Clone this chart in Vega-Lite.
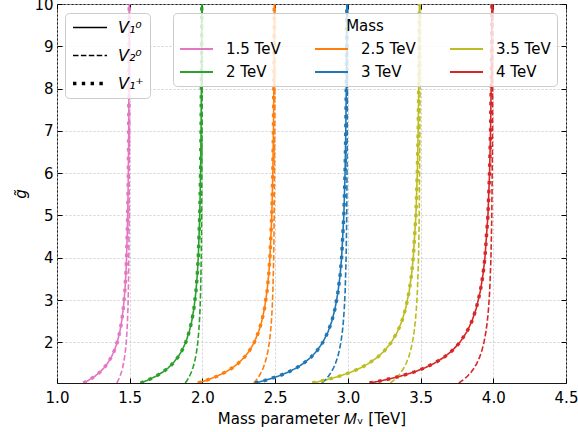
{
  "$schema": "https://vega.github.io/schema/vega-lite/v6.json",
  "autosize": {"type": "none"},
  "width": 509,
  "height": 379,
  "padding": {"left": 57, "top": 4, "right": 12, "bottom": 49},
  "background": "white",
  "view": {"stroke": "#1a1a1a", "strokeWidth": 1},
  "config": {
    "font": "DejaVu Sans",
    "axis": {
      "labelFont": "DejaVu Sans", "labelFontSize": 15, "labelColor": "black",
      "titleFont": "DejaVu Sans", "titleFontSize": 15, "titleFontWeight": "normal", "titleColor": "black",
      "tickColor": "black", "tickSize": -5, "tickWidth": 1, "domain": false,
      "gridColor": "#c4c4c4", "gridDash": [2, 2], "gridWidth": 0.8
    },
    "legend": {
      "labelFont": "DejaVu Sans", "labelFontSize": 15, "labelColor": "black",
      "titleFont": "DejaVu Sans", "titleFontSize": 15, "titleFontWeight": "normal", "titleColor": "black",
      "fillColor": "rgba(255,255,255,0.8)", "strokeColor": "#cccccc", "cornerRadius": 4
    }
  },
  "datasets": {
    "c": [
      {"m":"1.5 TeV","t":"s","g":1.04,"x":1.181},{"m":"1.5 TeV","t":"s","g":1.1,"x":1.2149},{"m":"1.5 TeV","t":"s","g":1.2,"x":1.2604},{"m":"1.5 TeV","t":"s","g":1.3,"x":1.2959},{"m":"1.5 TeV","t":"s","g":1.4,"x":1.324},{"m":"1.5 TeV","t":"s","g":1.5,"x":1.3467},{"m":"1.5 TeV","t":"s","g":1.65,"x":1.3733},{"m":"1.5 TeV","t":"s","g":1.8,"x":1.3935},{"m":"1.5 TeV","t":"s","g":2,"x":1.4138},{"m":"1.5 TeV","t":"s","g":2.25,"x":1.4319},{"m":"1.5 TeV","t":"s","g":2.5,"x":1.4448},{"m":"1.5 TeV","t":"s","g":2.8,"x":1.456},{"m":"1.5 TeV","t":"s","g":3.2,"x":1.4663},{"m":"1.5 TeV","t":"s","g":3.6,"x":1.4734},{"m":"1.5 TeV","t":"s","g":4,"x":1.4784},{"m":"1.5 TeV","t":"s","g":5,"x":1.4862},{"m":"1.5 TeV","t":"s","g":6,"x":1.4904},{"m":"1.5 TeV","t":"s","g":7,"x":1.493},{"m":"1.5 TeV","t":"s","g":8.5,"x":1.4952},{"m":"1.5 TeV","t":"s","g":10,"x":1.4966},
      {"m":"2 TeV","t":"s","g":1.04,"x":1.5747},{"m":"2 TeV","t":"s","g":1.1,"x":1.6198},{"m":"2 TeV","t":"s","g":1.2,"x":1.6806},{"m":"2 TeV","t":"s","g":1.3,"x":1.7278},{"m":"2 TeV","t":"s","g":1.4,"x":1.7653},{"m":"2 TeV","t":"s","g":1.5,"x":1.7956},{"m":"2 TeV","t":"s","g":1.65,"x":1.831},{"m":"2 TeV","t":"s","g":1.8,"x":1.858},{"m":"2 TeV","t":"s","g":2,"x":1.885},{"m":"2 TeV","t":"s","g":2.25,"x":1.9091},{"m":"2 TeV","t":"s","g":2.5,"x":1.9264},{"m":"2 TeV","t":"s","g":2.8,"x":1.9413},{"m":"2 TeV","t":"s","g":3.2,"x":1.9551},{"m":"2 TeV","t":"s","g":3.6,"x":1.9645},{"m":"2 TeV","t":"s","g":4,"x":1.9713},{"m":"2 TeV","t":"s","g":5,"x":1.9816},{"m":"2 TeV","t":"s","g":6,"x":1.9872},{"m":"2 TeV","t":"s","g":7,"x":1.9906},{"m":"2 TeV","t":"s","g":8.5,"x":1.9936},{"m":"2 TeV","t":"s","g":10,"x":1.9954},
      {"m":"2.5 TeV","t":"s","g":1.04,"x":1.9684},{"m":"2.5 TeV","t":"s","g":1.1,"x":2.0248},{"m":"2.5 TeV","t":"s","g":1.2,"x":2.1007},{"m":"2.5 TeV","t":"s","g":1.3,"x":2.1598},{"m":"2.5 TeV","t":"s","g":1.4,"x":2.2066},{"m":"2.5 TeV","t":"s","g":1.5,"x":2.2445},{"m":"2.5 TeV","t":"s","g":1.65,"x":2.2888},{"m":"2.5 TeV","t":"s","g":1.8,"x":2.3225},{"m":"2.5 TeV","t":"s","g":2,"x":2.3563},{"m":"2.5 TeV","t":"s","g":2.25,"x":2.3864},{"m":"2.5 TeV","t":"s","g":2.5,"x":2.408},{"m":"2.5 TeV","t":"s","g":2.8,"x":2.4267},{"m":"2.5 TeV","t":"s","g":3.2,"x":2.4439},{"m":"2.5 TeV","t":"s","g":3.6,"x":2.4556},{"m":"2.5 TeV","t":"s","g":4,"x":2.4641},{"m":"2.5 TeV","t":"s","g":5,"x":2.477},{"m":"2.5 TeV","t":"s","g":6,"x":2.484},{"m":"2.5 TeV","t":"s","g":7,"x":2.4883},{"m":"2.5 TeV","t":"s","g":8.5,"x":2.492},{"m":"2.5 TeV","t":"s","g":10,"x":2.4943},
      {"m":"3 TeV","t":"s","g":1.04,"x":2.3621},{"m":"3 TeV","t":"s","g":1.1,"x":2.4298},{"m":"3 TeV","t":"s","g":1.2,"x":2.5208},{"m":"3 TeV","t":"s","g":1.3,"x":2.5917},{"m":"3 TeV","t":"s","g":1.4,"x":2.648},{"m":"3 TeV","t":"s","g":1.5,"x":2.6933},{"m":"3 TeV","t":"s","g":1.65,"x":2.7466},{"m":"3 TeV","t":"s","g":1.8,"x":2.787},{"m":"3 TeV","t":"s","g":2,"x":2.8275},{"m":"3 TeV","t":"s","g":2.25,"x":2.8637},{"m":"3 TeV","t":"s","g":2.5,"x":2.8896},{"m":"3 TeV","t":"s","g":2.8,"x":2.912},{"m":"3 TeV","t":"s","g":3.2,"x":2.9326},{"m":"3 TeV","t":"s","g":3.6,"x":2.9468},{"m":"3 TeV","t":"s","g":4,"x":2.9569},{"m":"3 TeV","t":"s","g":5,"x":2.9724},{"m":"3 TeV","t":"s","g":6,"x":2.9808},{"m":"3 TeV","t":"s","g":7,"x":2.9859},{"m":"3 TeV","t":"s","g":8.5,"x":2.9905},{"m":"3 TeV","t":"s","g":10,"x":2.9931},
      {"m":"3.5 TeV","t":"s","g":1.04,"x":2.7557},{"m":"3.5 TeV","t":"s","g":1.1,"x":2.8347},{"m":"3.5 TeV","t":"s","g":1.2,"x":2.941},{"m":"3.5 TeV","t":"s","g":1.3,"x":3.0237},{"m":"3.5 TeV","t":"s","g":1.4,"x":3.0893},{"m":"3.5 TeV","t":"s","g":1.5,"x":3.1422},{"m":"3.5 TeV","t":"s","g":1.65,"x":3.2043},{"m":"3.5 TeV","t":"s","g":1.8,"x":3.2515},{"m":"3.5 TeV","t":"s","g":2,"x":3.2988},{"m":"3.5 TeV","t":"s","g":2.25,"x":3.341},{"m":"3.5 TeV","t":"s","g":2.5,"x":3.3712},{"m":"3.5 TeV","t":"s","g":2.8,"x":3.3973},{"m":"3.5 TeV","t":"s","g":3.2,"x":3.4214},{"m":"3.5 TeV","t":"s","g":3.6,"x":3.4379},{"m":"3.5 TeV","t":"s","g":4,"x":3.4497},{"m":"3.5 TeV","t":"s","g":5,"x":3.4678},{"m":"3.5 TeV","t":"s","g":6,"x":3.4776},{"m":"3.5 TeV","t":"s","g":7,"x":3.4836},{"m":"3.5 TeV","t":"s","g":8.5,"x":3.4889},{"m":"3.5 TeV","t":"s","g":10,"x":3.492},
      {"m":"4 TeV","t":"s","g":1.04,"x":3.1494},{"m":"4 TeV","t":"s","g":1.1,"x":3.2397},{"m":"4 TeV","t":"s","g":1.2,"x":3.3611},{"m":"4 TeV","t":"s","g":1.3,"x":3.4556},{"m":"4 TeV","t":"s","g":1.4,"x":3.5306},{"m":"4 TeV","t":"s","g":1.5,"x":3.5911},{"m":"4 TeV","t":"s","g":1.65,"x":3.6621},{"m":"4 TeV","t":"s","g":1.8,"x":3.716},{"m":"4 TeV","t":"s","g":2,"x":3.77},{"m":"4 TeV","t":"s","g":2.25,"x":3.8183},{"m":"4 TeV","t":"s","g":2.5,"x":3.8528},{"m":"4 TeV","t":"s","g":2.8,"x":3.8826},{"m":"4 TeV","t":"s","g":3.2,"x":3.9102},{"m":"4 TeV","t":"s","g":3.6,"x":3.929},{"m":"4 TeV","t":"s","g":4,"x":3.9425},{"m":"4 TeV","t":"s","g":5,"x":3.9632},{"m":"4 TeV","t":"s","g":6,"x":3.9744},{"m":"4 TeV","t":"s","g":7,"x":3.9812},{"m":"4 TeV","t":"s","g":8.5,"x":3.9873},{"m":"4 TeV","t":"s","g":10,"x":3.9908},
      {"m":"1.5 TeV","t":"d","g":1.04,"x":1.4112},{"m":"1.5 TeV","t":"d","g":1.1,"x":1.4207},{"m":"1.5 TeV","t":"d","g":1.2,"x":1.4333},{"m":"1.5 TeV","t":"d","g":1.3,"x":1.4432},{"m":"1.5 TeV","t":"d","g":1.4,"x":1.451},{"m":"1.5 TeV","t":"d","g":1.5,"x":1.4573},{"m":"1.5 TeV","t":"d","g":1.65,"x":1.4647},{"m":"1.5 TeV","t":"d","g":1.8,"x":1.4704},{"m":"1.5 TeV","t":"d","g":2,"x":1.476},{"m":"1.5 TeV","t":"d","g":2.25,"x":1.481},{"m":"1.5 TeV","t":"d","g":2.5,"x":1.4846},{"m":"1.5 TeV","t":"d","g":2.8,"x":1.4878},{"m":"1.5 TeV","t":"d","g":3.2,"x":1.4906},{"m":"1.5 TeV","t":"d","g":4,"x":1.494},{"m":"1.5 TeV","t":"d","g":5,"x":1.4962},{"m":"1.5 TeV","t":"d","g":7,"x":1.498},{"m":"1.5 TeV","t":"d","g":10,"x":1.499},
      {"m":"2 TeV","t":"d","g":1.04,"x":1.8817},{"m":"2 TeV","t":"d","g":1.1,"x":1.8942},{"m":"2 TeV","t":"d","g":1.2,"x":1.9111},{"m":"2 TeV","t":"d","g":1.3,"x":1.9243},{"m":"2 TeV","t":"d","g":1.4,"x":1.9347},{"m":"2 TeV","t":"d","g":1.5,"x":1.9431},{"m":"2 TeV","t":"d","g":1.65,"x":1.953},{"m":"2 TeV","t":"d","g":1.8,"x":1.9605},{"m":"2 TeV","t":"d","g":2,"x":1.968},{"m":"2 TeV","t":"d","g":2.25,"x":1.9747},{"m":"2 TeV","t":"d","g":2.5,"x":1.9795},{"m":"2 TeV","t":"d","g":2.8,"x":1.9837},{"m":"2 TeV","t":"d","g":3.2,"x":1.9875},{"m":"2 TeV","t":"d","g":4,"x":1.992},{"m":"2 TeV","t":"d","g":5,"x":1.9949},{"m":"2 TeV","t":"d","g":7,"x":1.9974},{"m":"2 TeV","t":"d","g":10,"x":1.9987},
      {"m":"2.5 TeV","t":"d","g":1.04,"x":2.3521},{"m":"2.5 TeV","t":"d","g":1.1,"x":2.3678},{"m":"2.5 TeV","t":"d","g":1.2,"x":2.3889},{"m":"2.5 TeV","t":"d","g":1.3,"x":2.4053},{"m":"2.5 TeV","t":"d","g":1.4,"x":2.4184},{"m":"2.5 TeV","t":"d","g":1.5,"x":2.4289},{"m":"2.5 TeV","t":"d","g":1.65,"x":2.4412},{"m":"2.5 TeV","t":"d","g":1.8,"x":2.4506},{"m":"2.5 TeV","t":"d","g":2,"x":2.46},{"m":"2.5 TeV","t":"d","g":2.25,"x":2.4684},{"m":"2.5 TeV","t":"d","g":2.5,"x":2.4744},{"m":"2.5 TeV","t":"d","g":2.8,"x":2.4796},{"m":"2.5 TeV","t":"d","g":3.2,"x":2.4844},{"m":"2.5 TeV","t":"d","g":4,"x":2.49},{"m":"2.5 TeV","t":"d","g":5,"x":2.4936},{"m":"2.5 TeV","t":"d","g":7,"x":2.4967},{"m":"2.5 TeV","t":"d","g":10,"x":2.4984},
      {"m":"3 TeV","t":"d","g":1.04,"x":2.8225},{"m":"3 TeV","t":"d","g":1.1,"x":2.8413},{"m":"3 TeV","t":"d","g":1.2,"x":2.8667},{"m":"3 TeV","t":"d","g":1.3,"x":2.8864},{"m":"3 TeV","t":"d","g":1.4,"x":2.902},{"m":"3 TeV","t":"d","g":1.5,"x":2.9147},{"m":"3 TeV","t":"d","g":1.65,"x":2.9295},{"m":"3 TeV","t":"d","g":1.8,"x":2.9408},{"m":"3 TeV","t":"d","g":2,"x":2.952},{"m":"3 TeV","t":"d","g":2.25,"x":2.9621},{"m":"3 TeV","t":"d","g":2.5,"x":2.9693},{"m":"3 TeV","t":"d","g":2.8,"x":2.9755},{"m":"3 TeV","t":"d","g":3.2,"x":2.9813},{"m":"3 TeV","t":"d","g":4,"x":2.988},{"m":"3 TeV","t":"d","g":5,"x":2.9923},{"m":"3 TeV","t":"d","g":7,"x":2.9961},{"m":"3 TeV","t":"d","g":10,"x":2.9981},
      {"m":"3.5 TeV","t":"d","g":1.04,"x":3.2929},{"m":"3.5 TeV","t":"d","g":1.1,"x":3.3149},{"m":"3.5 TeV","t":"d","g":1.2,"x":3.3445},{"m":"3.5 TeV","t":"d","g":1.3,"x":3.3675},{"m":"3.5 TeV","t":"d","g":1.4,"x":3.3857},{"m":"3.5 TeV","t":"d","g":1.5,"x":3.4005},{"m":"3.5 TeV","t":"d","g":1.65,"x":3.4177},{"m":"3.5 TeV","t":"d","g":1.8,"x":3.4309},{"m":"3.5 TeV","t":"d","g":2,"x":3.444},{"m":"3.5 TeV","t":"d","g":2.25,"x":3.4558},{"m":"3.5 TeV","t":"d","g":2.5,"x":3.4642},{"m":"3.5 TeV","t":"d","g":2.8,"x":3.4714},{"m":"3.5 TeV","t":"d","g":3.2,"x":3.4781},{"m":"3.5 TeV","t":"d","g":4,"x":3.486},{"m":"3.5 TeV","t":"d","g":5,"x":3.491},{"m":"3.5 TeV","t":"d","g":7,"x":3.4954},{"m":"3.5 TeV","t":"d","g":10,"x":3.4978},
      {"m":"4 TeV","t":"d","g":1.04,"x":3.7633},{"m":"4 TeV","t":"d","g":1.1,"x":3.7884},{"m":"4 TeV","t":"d","g":1.2,"x":3.8222},{"m":"4 TeV","t":"d","g":1.3,"x":3.8485},{"m":"4 TeV","t":"d","g":1.4,"x":3.8694},{"m":"4 TeV","t":"d","g":1.5,"x":3.8862},{"m":"4 TeV","t":"d","g":1.65,"x":3.906},{"m":"4 TeV","t":"d","g":1.8,"x":3.921},{"m":"4 TeV","t":"d","g":2,"x":3.936},{"m":"4 TeV","t":"d","g":2.25,"x":3.9494},{"m":"4 TeV","t":"d","g":2.5,"x":3.959},{"m":"4 TeV","t":"d","g":2.8,"x":3.9674},{"m":"4 TeV","t":"d","g":3.2,"x":3.975},{"m":"4 TeV","t":"d","g":4,"x":3.984},{"m":"4 TeV","t":"d","g":5,"x":3.9898},{"m":"4 TeV","t":"d","g":7,"x":3.9948},{"m":"4 TeV","t":"d","g":10,"x":3.9974}
    ]
  },
  "data": {"name": "c"},
  "layer": [
    {
      "transform": [{"filter": "datum.t === 's'"}],
      "mark": {"type": "line", "clip": true, "strokeCap": "butt"},
      "encoding": {
        "x": {"field": "x", "type": "quantitative",
              "scale": {"domain": [1, 4.5], "nice": false, "zero": false},
              "axis": {"orient": "bottom", "values": [1, 1.5, 2, 2.5, 3, 3.5, 4, 4.5], "format": ".1f", "labelFlush": false,
                       "labelPadding": 12, "title": "Mass parameter 𝑀ᵥ [TeV]", "titlePadding": 6, "grid": true}},
        "y": {"field": "g", "type": "quantitative",
              "scale": {"domain": [1.04, 10], "nice": false, "zero": false},
              "axis": {"orient": "left", "values": [2, 3, 4, 5, 6, 7, 8, 9, 10], "format": "d", "labelFlush": false,
                       "labelPadding": 9, "title": "g̃", "titleFontStyle": "italic", "titlePadding": 5, "grid": true}},
        "color": {"field": "m", "type": "nominal",
                  "scale": {"domain": ["1.5 TeV", "2.5 TeV", "3.5 TeV", "2 TeV", "3 TeV", "4 TeV"],
                            "range": ["#e377c2", "#ff7f0e", "#bcbd22", "#2ca02c", "#1f77b4", "#d62728"]},
                  "legend": {"title": "Mass", "orient": "none", "legendX": 116, "legendY": 9, "direction": "horizontal",
                             "columns": 3, "columnPadding": 33, "rowPadding": 7, "clipHeight": 16,
                             "symbolType": "stroke", "symbolSize": 1089, "symbolStrokeWidth": 2, "labelOffset": 12,
                             "titleAnchor": "middle", "titlePadding": 7, "padding": 6}},
        "strokeDash": {"datum": "V₁⁰", "type": "nominal",
                       "scale": {"domain": ["V₁⁰", "V₂⁰", "V₁⁺"], "range": [[1, 0], [5.5, 2.4], [3.4, 5.4]]},
                       "legend": {"title": null, "orient": "none", "legendX": 8, "legendY": 9, "direction": "vertical",
                                  "rowPadding": 11, "clipHeight": 17, "symbolType": "stroke", "symbolSize": 1156,
                                  "symbolStrokeColor": "black", "labelOffset": 9, "labelFontStyle": "italic", "labelFontSize": 16, "padding": 6}},
        "strokeWidth": {"datum": "V₁⁰", "type": "nominal",
                        "scale": {"type": "ordinal", "domain": ["V₁⁰", "V₂⁰", "V₁⁺"], "range": [1.6, 1.6, 3.4]}}
      }
    },
    {
      "transform": [{"filter": "datum.t === 'd'"}],
      "mark": {"type": "line", "clip": true, "strokeCap": "butt"},
      "encoding": {
        "x": {"field": "x", "type": "quantitative", "axis": null},
        "y": {"field": "g", "type": "quantitative", "axis": null},
        "color": {"field": "m", "type": "nominal"},
        "strokeDash": {"datum": "V₂⁰", "type": "nominal",
                       "scale": {"domain": ["V₁⁰", "V₂⁰", "V₁⁺"], "range": [[1, 0], [5.5, 2.4], [3.4, 5.4]]}},
        "strokeWidth": {"datum": "V₂⁰", "type": "nominal",
                        "scale": {"type": "ordinal", "domain": ["V₁⁰", "V₂⁰", "V₁⁺"], "range": [1.6, 1.6, 3.4]}}
      }
    },
    {
      "transform": [{"filter": "datum.t === 's'"}],
      "mark": {"type": "line", "clip": true, "strokeCap": "butt"},
      "encoding": {
        "x": {"field": "x", "type": "quantitative", "axis": null},
        "y": {"field": "g", "type": "quantitative", "axis": null},
        "color": {"field": "m", "type": "nominal"},
        "strokeDash": {"datum": "V₁⁺", "type": "nominal",
                       "scale": {"domain": ["V₁⁰", "V₂⁰", "V₁⁺"], "range": [[1, 0], [5.5, 2.4], [3.4, 5.4]]}},
        "strokeWidth": {"datum": "V₁⁺", "type": "nominal",
                        "scale": {"type": "ordinal", "domain": ["V₁⁰", "V₂⁰", "V₁⁺"], "range": [1.6, 1.6, 3.4]}}
      }
    },
    {
      "mark": {"type": "point", "opacity": 0},
      "encoding": {
        "x": {"field": "x", "type": "quantitative",
              "axis": {"orient": "top", "values": [1, 1.5, 2, 2.5, 3, 3.5, 4, 4.5], "labels": false, "title": null, "grid": false}},
        "y": {"field": "g", "type": "quantitative",
              "axis": {"orient": "right", "values": [2, 3, 4, 5, 6, 7, 8, 9, 10], "labels": false, "title": null, "grid": false}}
      }
    }
  ],
  "resolve": {"axis": {"x": "independent", "y": "independent"}}
}
